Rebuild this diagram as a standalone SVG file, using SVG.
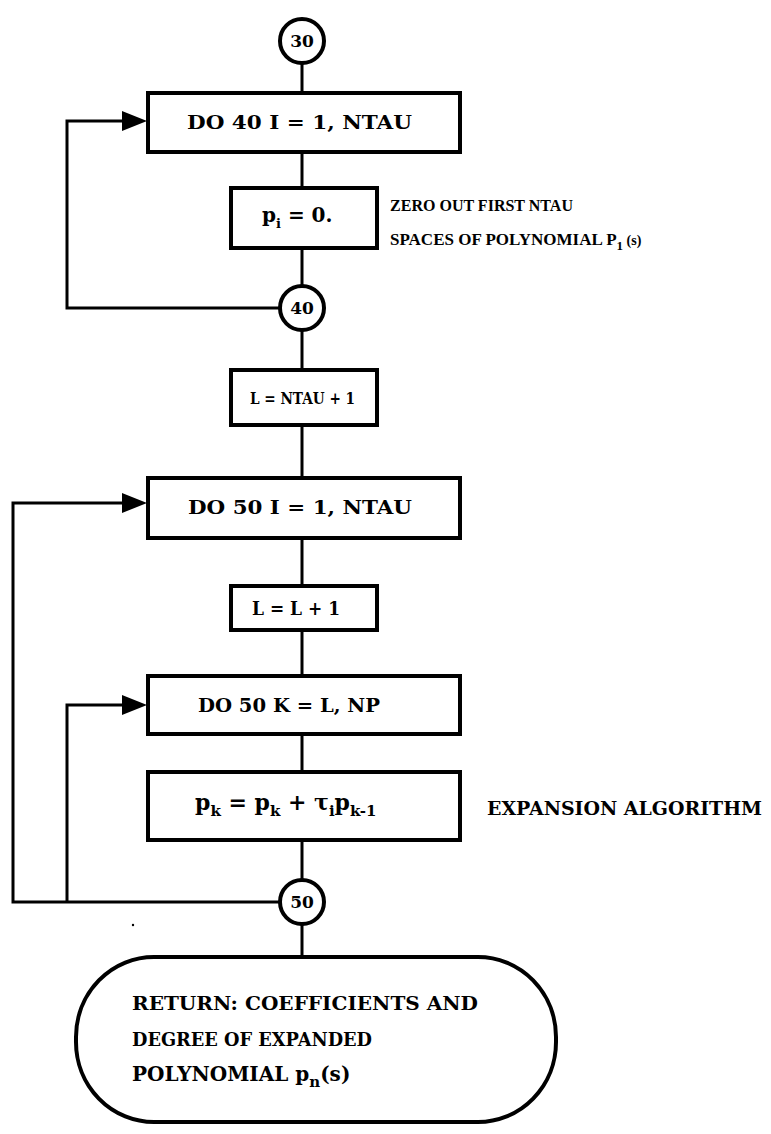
<svg xmlns="http://www.w3.org/2000/svg" width="771" height="1134" viewBox="0 0 771 1134">
<defs>
<style>
.n{fill:#fff;stroke:#000;stroke-width:4}
.c{fill:none;stroke:#000;stroke-width:3}
.t{font-family:"DejaVu Serif","Liberation Serif",serif;font-weight:bold;font-size:18px;fill:#000}
.m{text-anchor:middle}
.k{font-size:17px}
.a{font-family:"Liberation Serif",serif;font-size:17px}
.s{font-size:13px}
.b{font-size:20px}
</style>
</defs>
<g id="connectors">
<line class="c" x1="302" y1="63" x2="302" y2="93"/>
<line class="c" x1="302" y1="152" x2="302" y2="188"/>
<line class="c" x1="302" y1="248" x2="302" y2="286"/>
<polyline class="c" points="280,308 67,308 67,121 128,121"/>
<path d="M122,111 L147,121 L122,131 z" fill="#000"/>
<line class="c" x1="302" y1="330" x2="302" y2="370"/>
<line class="c" x1="302" y1="425" x2="302" y2="478"/>
<line class="c" x1="302" y1="538" x2="302" y2="586"/>
<line class="c" x1="302" y1="630" x2="302" y2="676"/>
<line class="c" x1="302" y1="734" x2="302" y2="772"/>
<line class="c" x1="302" y1="840" x2="302" y2="880"/>
<polyline class="c" points="280,902 13,902 13,503 128,503"/>
<path d="M122,493 L147,503 L122,513 z" fill="#000"/>
<polyline class="c" points="67,902 67,705 128,705"/>
<path d="M122,695 L147,705 L122,715 z" fill="#000"/>
<line class="c" x1="302" y1="924" x2="302" y2="958"/>
</g>
<g id="n30">
<circle class="n" cx="302" cy="41" r="22"/>
<text class="t k m" x="302" y="47">30</text>
</g>
<g id="do40">
<rect class="n" x="148" y="93" width="312" height="59"/>
<text class="t" x="187" y="129" textLength="225" lengthAdjust="spacingAndGlyphs">DO 40 I = 1, NTAU</text>
</g>
<g id="zero">
<rect class="n" x="231" y="188" width="146" height="60"/>
<text class="t b" x="262" y="222">p<tspan class="s" dy="6">i</tspan><tspan dy="-6"> = 0.</tspan></text>
<text class="t a" x="390" y="211" textLength="183" lengthAdjust="spacingAndGlyphs">ZERO OUT FIRST NTAU</text>
<text class="t a" x="390" y="245">SPACES OF POLYNOMIAL P<tspan style="font-size:13px" dy="5">1</tspan><tspan style="font-size:14px" dy="-5"> (s)</tspan></text>
</g>
<g id="n40">
<circle class="n" cx="302" cy="308" r="22"/>
<text class="t k m" x="302" y="314">40</text>
</g>
<g id="linit">
<rect class="n" x="231" y="370" width="146" height="55"/>
<text class="t" x="250" y="404" style="font-size:16px" textLength="105" lengthAdjust="spacingAndGlyphs">L = NTAU + 1</text>
</g>
<g id="do50i">
<rect class="n" x="148" y="478" width="312" height="60"/>
<text class="t" x="188" y="514" textLength="224" lengthAdjust="spacingAndGlyphs">DO 50 I = 1, NTAU</text>
</g>
<g id="linc">
<rect class="n" x="231" y="586" width="146" height="44"/>
<text class="t" x="252" y="615" textLength="88" lengthAdjust="spacingAndGlyphs">L = L + 1</text>
</g>
<g id="do50k">
<rect class="n" x="148" y="676" width="312" height="58"/>
<text class="t" x="198" y="712" textLength="182" lengthAdjust="spacingAndGlyphs">DO 50 K = L, NP</text>
</g>
<g id="expand">
<rect class="n" x="148" y="772" width="312" height="68"/>
<text class="t" x="195" y="810" style="font-size:22px">p<tspan style="font-size:15px" dy="6">k</tspan><tspan dy="-6"> = p</tspan><tspan style="font-size:15px" dy="6">k</tspan><tspan dy="-6"> + τ</tspan><tspan style="font-size:15px" dy="6">i</tspan><tspan dy="-6">p</tspan><tspan style="font-size:15px" dy="6">k-1</tspan></text>
<text class="t" x="487" y="815" textLength="275" lengthAdjust="spacingAndGlyphs">EXPANSION ALGORITHM</text>
</g>
<g id="n50">
<circle class="n" cx="302" cy="902" r="22"/>
<text class="t k m" x="302" y="908">50</text>
</g>
<g id="ret">
<rect class="n" x="76" y="957" width="480" height="165" rx="78" ry="80"/>
<text class="t" x="132" y="1010" textLength="346" lengthAdjust="spacingAndGlyphs">RETURN:  COEFFICIENTS AND</text>
<text class="t" x="132" y="1046" textLength="240" lengthAdjust="spacingAndGlyphs">DEGREE OF EXPANDED</text>
<text class="t b" x="132" y="1081">POLYNOMIAL p<tspan style="font-size:15px" dy="6">n</tspan><tspan dy="-6">(s)</tspan></text>
</g>
<circle cx="133" cy="925" r="1.2" fill="#000"/>
</svg>
